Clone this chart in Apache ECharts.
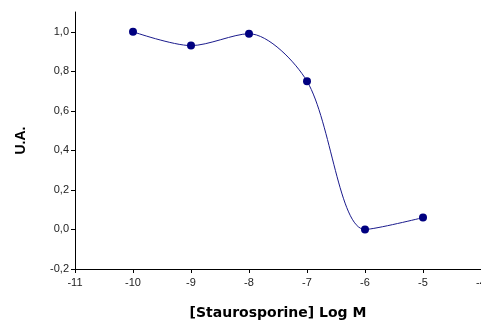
<!DOCTYPE html>
<html>
<head>
<meta charset="utf-8">
<script src="https://cdn.jsdelivr.net/npm/echarts@6/dist/echarts.min.js"></script>
<style>
  html, body { margin: 0; padding: 0; background: #fff; }
  #chart { width: 481px; height: 329px; }
</style>
</head>
<body>
<div id="chart"></div>
<script>
// log concentration of staurosporine and the measured response
const logDose = [-10, -9, -8, -7, -6, -5];
const response = [1.0, 0.93, 0.99, 0.75, 0.0, 0.06];
const yTicks = [-0.2, 0, 0.2, 0.4, 0.6, 0.8, 1.0];
const xTicks = [-11, -10, -9, -8, -7, -6, -5, -4];

const chart = echarts.init(document.getElementById('chart'), null, { renderer: 'canvas' });

const axisColor = '#000';
const labelFont = { color: '#222', fontSize: 11, fontFamily: 'Liberation Sans, Arial, sans-serif' };

chart.setOption({
  animation: false,
  grid: { left: 75, right: 0, top: 12, bottom: 60, outerBoundsMode: 'none', containLabel: false },
  xAxis: {
    type: 'value',
    min: -11,
    max: -4,
    interval: 1,
    name: '[Staurosporine] Log M',
    nameLocation: 'middle',
    nameGap: 37,
    nameTextStyle: { fontSize: 14, fontWeight: 'bold', color: '#000', fontFamily: 'DejaVu Sans, sans-serif' },
    axisLine: { onZero: false, lineStyle: { color: axisColor, width: 1 } },
    axisTick: { show: true, length: 4, lineStyle: { color: axisColor }, customValues: xTicks },
    axisLabel: { ...labelFont, margin: 8, customValues: xTicks },
    splitLine: { show: false }
  },
  yAxis: {
    type: 'value',
    min: -0.2,
    max: 1.1,
    name: 'U.A.',
    nameLocation: 'middle',
    nameGap: 47,
    nameRotate: 90,
    nameTextStyle: { fontSize: 14, fontWeight: 'bold', color: '#000', fontFamily: 'Liberation Sans, Arial, sans-serif' },
    axisLine: { show: true, lineStyle: { color: axisColor, width: 1 } },
    axisTick: { show: true, length: 4, lineStyle: { color: axisColor }, customValues: yTicks },
    axisLabel: {
      ...labelFont,
      margin: 6,
      customValues: yTicks,
      formatter: v => v.toFixed(1).replace('.', ',')
    },
    splitLine: { show: false }
  },
  series: [{
    type: 'line',
    data: logDose.map((x, i) => [x, response[i]]),
    smooth: 0.3,
    symbol: 'circle',
    symbolSize: 8,
    lineStyle: { color: '#1a1a8c', width: 1 },
    itemStyle: { color: '#000080' }
  }]
});
</script>
</body>
</html>
